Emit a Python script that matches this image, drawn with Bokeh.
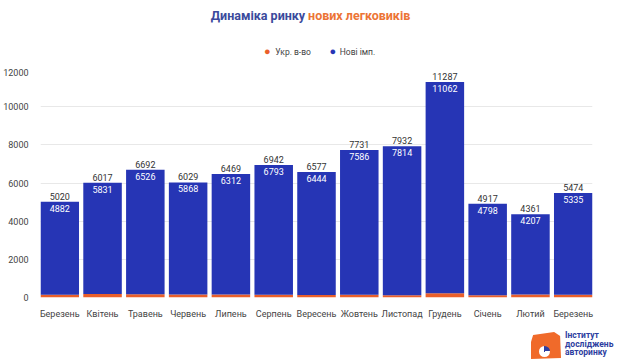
from bokeh.plotting import figure
from bokeh.layouts import column
from bokeh.models import ColumnDataSource, Range1d, FixedTicker, Label, Div
from bokeh.embed import file_html
from bokeh.resources import INLINE

months = ["Березень", "Квітень", "Травень", "Червень", "Липень", "Серпень", "Вересень",
          "Жовтень", "Листопад", "Грудень", "Січень", "Лютий", "Березень"]
totals = [5020, 6017, 6692, 6029, 6469, 6942, 6577, 7731, 7932, 11287, 4917, 4361, 5474]
imports = [4882, 5831, 6526, 5868, 6312, 6793, 6444, 7586, 7814, 11062, 4798, 4207, 5335]
ukr = [t - i for t, i in zip(totals, imports)]
y_ticks = [0, 2000, 4000, 6000, 8000, 10000, 12000]

ORANGE = "#ea5f2a"
BLUE = "#2635b5"
FONT = "Roboto"
W = 604
PAGE_Y0 = 1
FRAME_X = (38, 595)  # x range of the aligned top frame, chosen so Label x = page x


def lab(f, text, x, y, size, color, align="left", bold=False):
    f.add_layout(Label(x=x, y=y, text=text, text_font=FONT, text_font_size=size,
                       text_color=color, text_align=align, text_baseline="middle",
                       text_font_style="bold" if bold else "normal"))


# ---- top: title and legend
TOP_H = 68
top = figure(width=W, height=TOP_H, output_backend="svg", toolbar_location=None,
             x_axis_location=None, y_axis_location=None,
             x_range=Range1d(*FRAME_X), y_range=Range1d(PAGE_Y0 + TOP_H, PAGE_Y0),
             min_border_left=35, min_border_right=12, min_border_top=0, min_border_bottom=0)
top.grid.visible = False
top.outline_line_color = None
lab(top, "Динаміка ринку", 305, 16, "12.5px", "#3b4a9c", "right", True)
lab(top, "нових легковиків", 308, 16, "12.5px", "#ec7436", "left", True)
lab(top, "●", 267, 52, "11px", ORANGE, "center")
lab(top, "Укр. в-во", 275, 52, "8.5px", "#444444")
lab(top, "●", 333, 52, "11px", BLUE, "center")
lab(top, "Нові імп.", 340, 52, "8.5px", "#444444")

# ---- main chart
MAIN_H = 256
xs = list(range(len(months)))
src = ColumnDataSource(dict(x=xs, ukr=ukr, imp=imports, total=totals,
                            tl=[str(v) for v in totals], il=[str(v) for v in imports]))

p = figure(width=W, height=MAIN_H, output_backend="svg", toolbar_location=None,
           x_range=Range1d(-0.45, len(months) - 0.55), y_range=Range1d(0, 12000),
           min_border_left=35, min_border_right=12, min_border_top=0, min_border_bottom=27)
p.outline_line_color = None

p.vbar_stack(["ukr", "imp"], x="x", width=0.9, color=[ORANGE, BLUE], line_color=None, source=src)

p.text(x="x", y="total", text="tl", source=src, text_align="center", text_baseline="bottom",
       y_offset=-2, text_font_size="9px", text_color="#333333", text_font={"value": FONT})
p.text(x="x", y="total", text="il", source=src, text_align="center", text_baseline="top",
       y_offset=3, text_font_size="9px", text_color="white", text_font={"value": FONT})

p.xaxis.ticker = FixedTicker(ticks=xs)
p.xaxis.major_label_overrides = {i: m for i, m in zip(xs, months)}
p.yaxis.ticker = FixedTicker(ticks=y_ticks)
for ax in (p.xaxis, p.yaxis):
    ax.axis_line_color = None
    ax.major_tick_line_color = None
    ax.minor_tick_line_color = None
    ax.major_label_text_font = FONT
    ax.major_label_text_font_size = "9px"
    ax.major_label_text_color = "#444444"
p.xaxis.major_label_standoff = 5
p.yaxis.major_label_standoff = 6
p.xgrid.grid_line_color = None
p.ygrid.grid_line_color = "#e8e8e8"

# ---- bottom: logo (HTML)
logo_html = (
    '<div style="position:relative;width:604px;height:35px;font-family:Roboto,sans-serif;">'
    '<div style="position:absolute;left:531px;top:8px;width:30px;height:27px;background:#f06a2a;'
    'clip-path:polygon(7% 11%, 77% 0%, 97% 15%, 100% 96%, 0% 100%, 0% 37%);"></div>'
    '<div style="position:absolute;left:539px;top:22px;width:11px;height:11px;border-radius:50%;'
    'background:conic-gradient(#2d3ea0 0 25%, white 25% 100%);"></div>'
    '<div style="position:absolute;left:565px;top:7px;color:#2d3ea0;font-weight:bold;'
    'font-size:8.5px;line-height:8.5px;white-space:nowrap;">Інститут<br>досліджень<br>авторинку</div>'
    '</div>'
)
bot = Div(text=logo_html, width=W, height=35, margin=0)

layout = column(top, p, bot, spacing=0)
open("out.html", "w").write(file_html(layout, INLINE))
